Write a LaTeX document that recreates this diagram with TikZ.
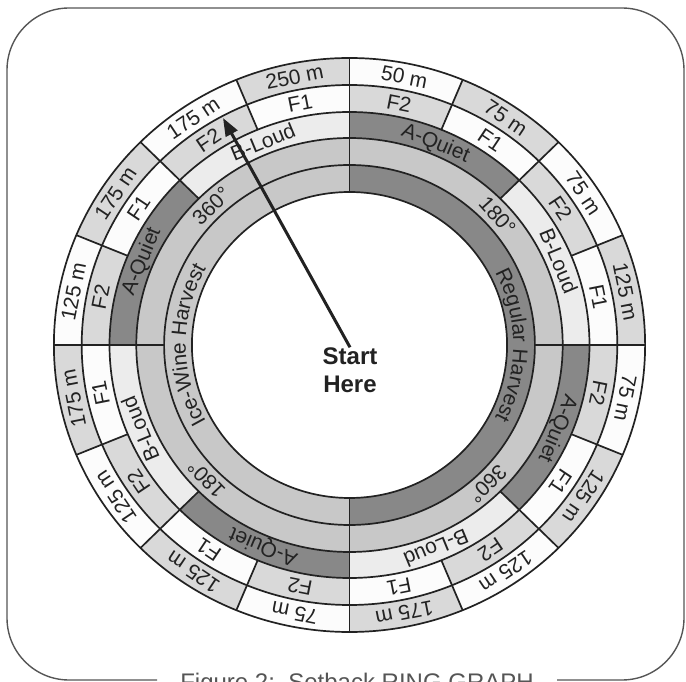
\documentclass[tikz,border=0pt]{standalone}
\usepackage{fontspec}
\setmainfont{Liberation Sans}
\usetikzlibrary{arrows.meta,decorations.text}
\definecolor{InkGray}{HTML}{222222}
\definecolor{FrameGray}{HTML}{555555}
\definecolor{QuietDark}{HTML}{888888}
\definecolor{RingGray}{HTML}{C8C8C8}
\definecolor{CellGray}{HTML}{D9D9D9}
\definecolor{LoudPale}{HTML}{ECECEC}
\definecolor{CellWhite}{HTML}{FCFCFC}
\newcommand{\ringfont}{\fontsize{21}{21}\selectfont}
% one cell of a ring: start angle, end angle, inner r, outer r, colour
\newcommand{\ringcell}[5]{%
  \fill[#5] (#1:#3) arc[start angle=#1, end angle=#2, radius=#3]
    -- (#2:#4) arc[start angle=#2, end angle=#1, radius=#4] -- cycle;}

\begin{document}
\begin{tikzpicture}[
  x=1pt, y=1pt,
  frame/.style={
    draw=FrameGray,
    line width=1.4pt,
    rounded corners=62pt
  },
  cellline/.style={
    draw=InkGray,
    line width=1.7pt
  },
  celltext/.style={
    font=\ringfont,
    text=InkGray,
    text height=15pt,
    text depth=0pt,
    inner sep=0pt
  },
  starttext/.style={
    font=\fontsize{24}{28}\selectfont\bfseries,
    text=InkGray,
    align=center,
    inner sep=0pt
  },
  caption/.style={
    font=\fontsize{24}{24}\selectfont,
    text=FrameGray,
    inner sep=0pt
  },
  startarrow/.style={
    -{Triangle[length=18pt,width=13pt]},
    line width=3pt,
    draw=InkGray
  },
  curvetext/.style={
    decorate,
    decoration={text along path, text align=center, text color=InkGray}
  }
]
\useasboundingbox (0,0) rectangle (686,681);

% Frame, open at the caption
\draw[frame] (157,1) -- (7,1) -- (7,673) -- (684,673) -- (684,1) -- (557,1);
\node[caption, anchor=base] (caption) at (357,-9) {Figure 2:\ \ Setback RING GRAPH};

\begin{scope}[shift={(349.5,336)}, xscale=1.03]

% Harvest ring
\ringcell{-90}{90}{153}{180}{QuietDark}
\ringcell{90}{270}{153}{180}{RingGray}

% Degree ring
\ringcell{0}{360}{180}{207}{RingGray}

% Noise ring
\foreach \j/\col in {1/QuietDark, 2/LoudPale, 3/QuietDark, 4/LoudPale,
                     5/QuietDark, 6/LoudPale, 7/QuietDark, 8/LoudPale} {
  \pgfmathsetmacro{\a}{90-(\j-1)*45}
  \pgfmathsetmacro{\b}{\a-45}
  \ringcell{\a}{\b}{207}{233}{\col}
}

% Frequency and distance rings
\foreach \k in {1,...,16} {
  \pgfmathsetmacro{\a}{90-(\k-1)*22.5}
  \pgfmathsetmacro{\b}{\a-22.5}
  \ifodd\k\relax
    \ringcell{\a}{\b}{233}{260}{CellGray}
    \ringcell{\a}{\b}{260}{287}{CellWhite}
  \else
    \ringcell{\a}{\b}{233}{260}{CellWhite}
    \ringcell{\a}{\b}{260}{287}{CellGray}
  \fi
}

% Ring outlines and dividers
\foreach \r in {153,180,207,233,260,287}
  \draw[cellline] (0,0) circle[radius=\r];
\foreach \t in {90,270}
  \draw[cellline] (\t:153) -- (\t:287);
\foreach \t in {0,180}
  \draw[cellline] (\t:180) -- (\t:287);
\foreach \t in {45,135,225,315}
  \draw[cellline] (\t:207) -- (\t:287);
\foreach \t in {22.5,67.5,112.5,157.5,202.5,247.5,292.5,337.5}
  \draw[cellline] (\t:233) -- (\t:287);

% Distance labels
\foreach \k/\dist in {1/50 m, 2/75 m, 3/75 m, 4/125 m, 5/75 m, 6/125 m,
                      7/125 m, 8/175 m, 9/75 m, 10/125 m, 11/125 m, 12/175 m,
                      13/125 m, 14/175 m, 15/175 m, 16/250 m} {
  \pgfmathsetmacro{\m}{78.75-(\k-1)*22.5}
  \node[celltext, rotate=\m-90] (dist\k) at (\m:273.5) {\dist};
  \ifodd\k\relax
    \node[celltext, rotate=\m-90] (freq\k) at (\m:246.5) {F2};
  \else
    \node[celltext, rotate=\m-90] (freq\k) at (\m:246.5) {F1};
  \fi
}

% Noise labels
\foreach \j/\lab in {1/A-Quiet, 2/B-Loud, 3/A-Quiet, 4/B-Loud,
                     5/A-Quiet, 6/B-Loud, 7/A-Quiet, 8/B-Loud} {
  \pgfmathsetmacro{\m}{67.5-(\j-1)*45}
  \node[celltext, rotate=\m-90] (noise\j) at (\m:220) {\lab};
}

% Degree labels
\node[celltext, rotate=-48] (degA) at (42:193.5) {180°};
\node[celltext, rotate=-136] (degB) at (-46:193.5) {360°};
\node[celltext, rotate=134] (degC) at (224:193.5) {180°};
\node[celltext, rotate=44] (degD) at (134:193.5) {360°};

% Harvest labels
\path[curvetext, decoration={text={|\ringfont|Regular Harvest}}]
  (32:159) arc[start angle=32, end angle=-32, radius=159];
\path[curvetext, decoration={text={|\ringfont|Ice-Wine Harvest}}]
  (214:159) arc[start angle=214, end angle=146, radius=159];

\end{scope}

% Start
\node[starttext] (start) at (350,311) {Start\\Here};
\coordinate (tip) at (223,563);
\draw[startarrow] (start.north) -- (tip);

\end{tikzpicture}
\end{document}
